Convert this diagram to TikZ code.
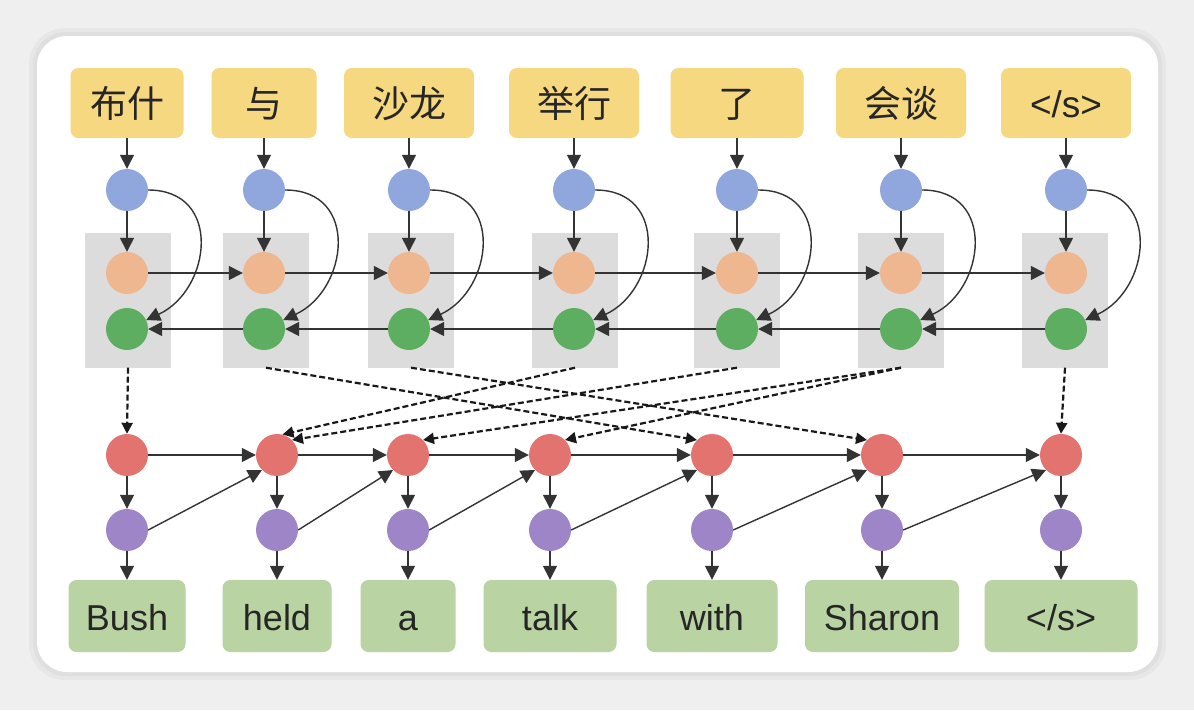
\documentclass[tikz,border=0pt]{standalone}
\usepackage{fontspec}
\setmainfont{Liberation Sans}
\newfontfamily\cjk{Noto Sans CJK SC}
\usetikzlibrary{arrows.meta}

\definecolor{bggray}{HTML}{EFEFEF}
\definecolor{srcyellow}{HTML}{F5D87F}
\definecolor{tgtgreen}{HTML}{B9D3A2}
\definecolor{cellgray}{HTML}{DCDCDC}
\definecolor{embblue}{HTML}{8FA7DD}
\definecolor{fwdorange}{HTML}{EFB78F}
\definecolor{bwdgreen}{HTML}{5EAE62}
\definecolor{decred}{HTML}{E3736F}
\definecolor{prjpurple}{HTML}{9D85C7}

\tikzset{
  src/.style={fill=srcyellow, rounded corners=8pt, minimum height=70pt, inner sep=0pt,
    text height=32pt, text depth=4pt,
    text=black!85, font=\cjk\fontsize{37}{40}\selectfont},
  tgt/.style={fill=tgtgreen, rounded corners=8pt, minimum height=72pt, inner sep=0pt,
    text height=31pt, text depth=3pt,
    text=black!85, font=\fontsize{36}{40}\selectfont},
  cell/.style={fill=cellgray, minimum width=86pt, minimum height=135pt, inner sep=0pt},
  bead/.style={circle, minimum size=42pt, inner sep=0pt},
  emb/.style={bead, fill=embblue},
  fwd/.style={bead, fill=fwdorange},
  bwd/.style={bead, fill=bwdgreen},
  dec/.style={bead, fill=decred},
  prj/.style={bead, fill=prjpurple},
  link/.style={-{Triangle[length=14pt,width=14pt]}, line width=1.4pt, draw=black!80},
  attn/.style={-{Triangle[length=11pt,width=11pt]}, line width=2.2pt, draw=black!90,
    dash pattern=on 6pt off 3pt},
}

\begin{document}
\begin{tikzpicture}[x=1pt, y=-1pt]

% card
\fill [bggray] (0,0) rectangle (1194,710);
\fill [black, opacity=0.03, rounded corners=36pt] (29,28) rectangle (1166,680);
\fill [black, opacity=0.03, rounded corners=33pt] (33,32) rectangle (1162,676);
\fill [white, rounded corners=30pt] (37,36) rectangle (1158,672);

% encoder cells
\node [cell] (c1) at (128,300) {};
\node [cell] (c2) at (266,300) {};
\node [cell] (c3) at (411,300) {};
\node [cell] (c4) at (575,300) {};
\node [cell] (c5) at (737,300) {};
\node [cell] (c6) at (901,300) {};
\node [cell] (c7) at (1065,300) {};

% source words
\node [src, minimum width=113pt] (s1) at (127,103) {布什};
\node [src, minimum width=105pt] (s2) at (264,103) {与};
\node [src, minimum width=130pt] (s3) at (409,103) {沙龙};
\node [src, minimum width=130pt] (s4) at (574,103) {举行};
\node [src, minimum width=133pt] (s5) at (737,103) {了};
\node [src, minimum width=130pt] (s6) at (901,103) {会谈};
\node [src, minimum width=130pt] (s7) at (1066,103) {\normalfont </s>};

% embeddings
\node [emb] (e1) at (127,190) {};
\node [emb] (e2) at (264,190) {};
\node [emb] (e3) at (409,190) {};
\node [emb] (e4) at (574,190) {};
\node [emb] (e5) at (737,190) {};
\node [emb] (e6) at (901,190) {};
\node [emb] (e7) at (1066,190) {};

% forward states
\node [fwd] (o1) at (127,273) {};
\node [fwd] (o2) at (264,273) {};
\node [fwd] (o3) at (409,273) {};
\node [fwd] (o4) at (574,273) {};
\node [fwd] (o5) at (737,273) {};
\node [fwd] (o6) at (901,273) {};
\node [fwd] (o7) at (1066,273) {};

% backward states
\node [bwd] (g1) at (127,329) {};
\node [bwd] (g2) at (264,329) {};
\node [bwd] (g3) at (409,329) {};
\node [bwd] (g4) at (574,329) {};
\node [bwd] (g5) at (737,329) {};
\node [bwd] (g6) at (901,329) {};
\node [bwd] (g7) at (1066,329) {};

% decoder states
\node [dec] (r1) at (127,455) {};
\node [dec] (r2) at (277,455) {};
\node [dec] (r3) at (408,455) {};
\node [dec] (r4) at (550,455) {};
\node [dec] (r5) at (712,455) {};
\node [dec] (r6) at (882,455) {};
\node [dec] (r7) at (1061,455) {};

% output layer
\node [prj] (p1) at (127,530) {};
\node [prj] (p2) at (277,530) {};
\node [prj] (p3) at (408,530) {};
\node [prj] (p4) at (550,530) {};
\node [prj] (p5) at (712,530) {};
\node [prj] (p6) at (882,530) {};
\node [prj] (p7) at (1061,530) {};

% target words
\node [tgt, minimum width=117pt] (t1) at (127,616) {Bush};
\node [tgt, minimum width=109pt] (t2) at (277,616) {held};
\node [tgt, minimum width=95pt] (t3) at (408,616) {a};
\node [tgt, minimum width=133pt] (t4) at (550,616) {talk};
\node [tgt, minimum width=131pt] (t5) at (712,616) {with};
\node [tgt, minimum width=154pt] (t6) at (882,616) {Sharon};
\node [tgt, minimum width=153pt] (t7) at (1061,616) {\normalfont </s>};

% encoder arrows
\draw [link] (s1) -- (e1);
\draw [link] (s2) -- (e2);
\draw [link] (s3) -- (e3);
\draw [link] (s4) -- (e4);
\draw [link] (s5) -- (e5);
\draw [link] (s6) -- (e6);
\draw [link] (s7) -- (e7);

\draw [link] (e1) -- (o1);
\draw [link] (e2) -- (o2);
\draw [link] (e3) -- (o3);
\draw [link] (e4) -- (o4);
\draw [link] (e5) -- (o5);
\draw [link] (e6) -- (o6);
\draw [link] (e7) -- (o7);

\draw [link] (e1.east) .. controls +(75,0) and +(65,-30) .. (g1.25);
\draw [link] (e2.east) .. controls +(75,0) and +(65,-30) .. (g2.25);
\draw [link] (e3.east) .. controls +(75,0) and +(65,-30) .. (g3.25);
\draw [link] (e4.east) .. controls +(75,0) and +(65,-30) .. (g4.25);
\draw [link] (e5.east) .. controls +(75,0) and +(65,-30) .. (g5.25);
\draw [link] (e6.east) .. controls +(75,0) and +(65,-30) .. (g6.25);
\draw [link] (e7.east) .. controls +(75,0) and +(65,-30) .. (g7.25);

\draw [link] (o1) -- (o2);
\draw [link] (o2) -- (o3);
\draw [link] (o3) -- (o4);
\draw [link] (o4) -- (o5);
\draw [link] (o5) -- (o6);
\draw [link] (o6) -- (o7);

\draw [link] (g2) -- (g1);
\draw [link] (g3) -- (g2);
\draw [link] (g4) -- (g3);
\draw [link] (g5) -- (g4);
\draw [link] (g6) -- (g5);
\draw [link] (g7) -- (g6);

% attention
\draw [attn] (c1.south) -- (r1.north);
\draw [attn] (c2.south) -- (r5.135);
\draw [attn] (c3.south) -- (r6.135);
\draw [attn] (c4.south) -- (r2.75);
\draw [attn] (c5.south) -- (r2.45);
\draw [attn] (c6.south) -- (r3.45);
\draw [attn] (c6.south) -- (r4.45);
\draw [attn] (c7.south) -- (r7.north);

% decoder arrows
\draw [link] (r1) -- (r2);
\draw [link] (r2) -- (r3);
\draw [link] (r3) -- (r4);
\draw [link] (r4) -- (r5);
\draw [link] (r5) -- (r6);
\draw [link] (r6) -- (r7);

\draw [link] (r1) -- (p1);
\draw [link] (r2) -- (p2);
\draw [link] (r3) -- (p3);
\draw [link] (r4) -- (p4);
\draw [link] (r5) -- (p5);
\draw [link] (r6) -- (p6);
\draw [link] (r7) -- (p7);

\draw [link] (p1.east) -- (r2.225);
\draw [link] (p2.east) -- (r3.225);
\draw [link] (p3.east) -- (r4.225);
\draw [link] (p4.east) -- (r5.225);
\draw [link] (p5.east) -- (r6.225);
\draw [link] (p6.east) -- (r7.225);

\draw [link] (p1) -- (t1);
\draw [link] (p2) -- (t2);
\draw [link] (p3) -- (t3);
\draw [link] (p4) -- (t4);
\draw [link] (p5) -- (t5);
\draw [link] (p6) -- (t6);
\draw [link] (p7) -- (t7);

\end{tikzpicture}
\end{document}
